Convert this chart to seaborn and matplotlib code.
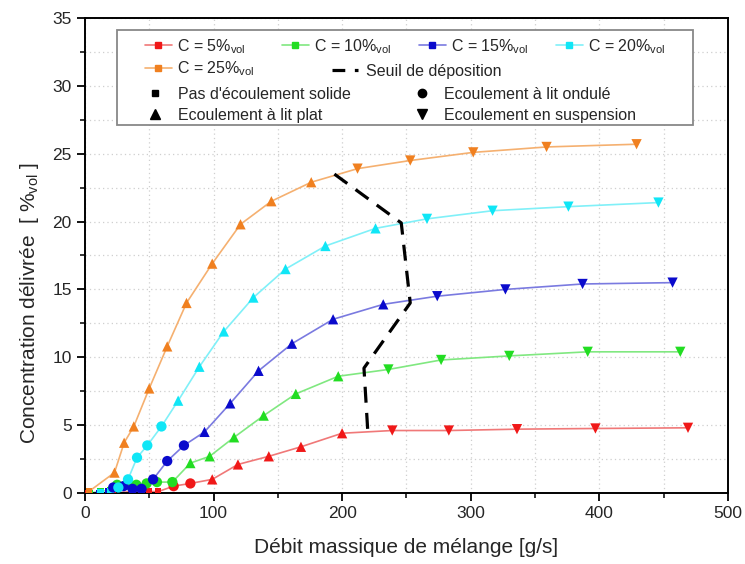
import matplotlib
matplotlib.use("Agg")
import matplotlib.pyplot as plt
from matplotlib.lines import Line2D
from matplotlib.patches import Rectangle
from matplotlib.ticker import MultipleLocator
import seaborn as sns
import pandas as pd

sns.set_style("white")
plt.rcParams['font.family'] = ['Liberation Sans', 'DejaVu Sans']

# ---------------- data ----------------
series = ["C5", "C10", "C15", "C20", "C25"]
series_labels = ["C = 5%$_{\\mathregular{vol}}$", "C = 10%$_{\\mathregular{vol}}$",
                 "C = 15%$_{\\mathregular{vol}}$", "C = 20%$_{\\mathregular{vol}}$",
                 "C = 25%$_{\\mathregular{vol}}$"]

# regimes: N = pas d'écoulement solide, O = lit ondulé, P = lit plat, S = suspension
x_c5 = [2, 12, 22, 37, 44, 50, 57, 69, 82, 99, 119, 143, 168, 200, 239, 283, 336, 397, 469]
y_c5 = [0, 0, 0, 0.1, 0.1, 0.1, 0.1, 0.5, 0.7, 1.0, 2.1, 2.7, 3.4, 4.4, 4.6, 4.6, 4.7, 4.75, 4.8]
r_c5 = ["N"] * 7 + ["O"] * 2 + ["P"] * 5 + ["S"] * 5

x_c10 = [4, 12, 20, 25, 34, 40, 48, 56, 68, 82, 97, 116, 139, 164, 197, 236, 277, 330, 391, 463]
y_c10 = [0, 0.1, 0.2, 0.6, 0.6, 0.6, 0.7, 0.8, 0.8, 2.2, 2.7, 4.1, 5.7, 7.3, 8.6, 9.1, 9.8, 10.1, 10.4, 10.4]
r_c10 = ["N"] * 3 + ["O"] * 6 + ["P"] * 6 + ["S"] * 5

x_c15 = [3, 11, 18, 22, 30, 37, 44, 53, 64, 77, 93, 113, 135, 161, 193, 232, 274, 327, 387, 457]
y_c15 = [0, 0, 0.1, 0.4, 0.5, 0.3, 0.3, 1.0, 2.35, 3.5, 4.5, 6.6, 9.0, 11.0, 12.8, 13.9, 14.5, 15.0, 15.4, 15.5]
r_c15 = ["N"] * 3 + ["O"] * 7 + ["P"] * 6 + ["S"] * 4

x_c20 = [3, 12, 20, 26, 33.5, 40.5, 48.5, 59.5, 72.5, 89, 108, 131, 156, 187, 226, 266, 317, 376, 446]
y_c20 = [0, 0.05, 0.1, 0.4, 1.0, 2.6, 3.5, 4.9, 6.8, 9.3, 11.9, 14.4, 16.5, 18.2, 19.5, 20.2, 20.8, 21.1, 21.4]
r_c20 = ["N"] * 3 + ["O"] * 5 + ["P"] * 7 + ["S"] * 4

x_c25 = [3, 23, 30.5, 38, 50, 64, 79, 99, 121, 145, 176, 212, 253, 302, 359, 429]
y_c25 = [0.1, 1.5, 3.7, 4.9, 7.7, 10.8, 14.0, 16.9, 19.8, 21.5, 22.9, 23.9, 24.5, 25.1, 25.5, 25.7]
r_c25 = ["N"] + ["P"] * 10 + ["S"] * 5

x_seuil = [194, 246, 253, 217, 220]
y_seuil = [23.5, 19.9, 14.0, 9.2, 4.5]

regimes = ["N", "O", "P", "S"]
regime_labels = ["Pas d'écoulement solide", "Ecoulement à lit ondulé",
                 "Ecoulement à lit plat", "Ecoulement en suspension"]

# ---------------- styles ----------------
marker_colors = {"C5": "#f01818", "C10": "#22dd22", "C15": "#0a0acc", "C20": "#10e6f6", "C25": "#f08020"}
line_colors = {"C5": "#f07878", "C10": "#80e880", "C15": "#7a7ae0", "C20": "#80f0f8", "C25": "#f5b070"}
regime_markers = {"N": "s", "O": "o", "P": "^", "S": "v"}
regime_sizes = {"N": 22, "O": 55, "P": 55, "S": 55}

frames = []
for s, xs, ys, rs in zip(series, [x_c5, x_c10, x_c15, x_c20, x_c25],
                         [y_c5, y_c10, y_c15, y_c20, y_c25],
                         [r_c5, r_c10, r_c15, r_c20, r_c25]):
    frames.append(pd.DataFrame({"x": xs, "y": ys, "regime": rs, "serie": s}))
df = pd.concat(frames, ignore_index=True)

fig, ax = plt.subplots(figsize=(7.45, 5.64), dpi=100)
fig.subplots_adjust(left=0.114, right=0.977, top=0.968, bottom=0.126)

sns.lineplot(data=df, x="x", y="y", hue="serie", palette=line_colors, sort=False,
             estimator=None, units="serie", legend=False, linewidth=1.2, ax=ax, zorder=2)
for reg in regimes:
    sub = df[df["regime"] == reg]
    sns.scatterplot(data=sub, x="x", y="y", hue="serie", palette=marker_colors,
                    marker=regime_markers[reg], s=regime_sizes[reg], linewidth=0,
                    legend=False, ax=ax, zorder=3)

sns.lineplot(x=x_seuil, y=y_seuil, sort=False, estimator=None, color="black",
             linewidth=2.3, linestyle=(0, (5, 3.2)), ax=ax, zorder=4)

# ---------------- axes ----------------
ax.set_xlim(0, 500)
ax.set_ylim(0, 35)
ax.xaxis.set_major_locator(MultipleLocator(100))
ax.xaxis.set_minor_locator(MultipleLocator(50))
ax.yaxis.set_major_locator(MultipleLocator(5))
ax.yaxis.set_minor_locator(MultipleLocator(2.5))
ax.tick_params(which="major", direction="out", length=6, width=1.3, labelsize=12.5,
               bottom=True, left=True, color="black")
ax.tick_params(which="minor", direction="out", length=3.5, width=1.1,
               bottom=True, left=True, color="black")
ax.grid(which="both", color="#cfcfcf", linestyle=(0, (1, 2.5)), linewidth=0.9)
ax.set_axisbelow(True)
for sp in ax.spines.values():
    sp.set_visible(True)
    sp.set_color("black")
    sp.set_linewidth(1.4)

ax.set_xlabel("Débit massique de mélange [g/s]", fontsize=15, labelpad=12)
ax.set_ylabel("Concentration délivrée  [ %$_{\\mathregular{vol}}$ ]", fontsize=15)
ax.yaxis.set_label_coords(-0.068, 0.40)

# ---------------- legend ----------------
rect = Rectangle((0.0498, 0.775), 0.896, 0.2, transform=ax.transAxes, facecolor="white",
                 edgecolor="#888888", linewidth=1.3, zorder=5)
ax.add_patch(rect)

def series_handle(s):
    return Line2D([0], [0], color=line_colors[s], lw=1.2, marker="s", markersize=4.5,
                  markerfacecolor=marker_colors[s], markeredgecolor=marker_colors[s])

order = [0, 4, 1, 2, 3]
legA = ax.legend([series_handle(series[i]) for i in order], [series_labels[i] for i in order],
                 ncol=4, loc="upper left", bbox_to_anchor=(0.093, 0.960), frameon=False,
                 fontsize=11.5, handlelength=1.7, handletextpad=0.3, columnspacing=1.72,
                 labelspacing=0.25, borderpad=0, borderaxespad=0)
legA.set_zorder(6)
ax.add_artist(legA)

legB = ax.legend([Line2D([0], [0], color="black", lw=2.3, linestyle=(0, (4, 3)))],
                 ["Seuil de déposition"], loc="center left", bbox_to_anchor=(0.385, 0.888),
                 frameon=False, fontsize=11.5, handlelength=1.6, handletextpad=0.5,
                 borderpad=0, borderaxespad=0)
legB.set_zorder(6)
ax.add_artist(legB)

reg_order = [0, 2, 1, 3]
reg_hsize = {"N": 4.5, "O": 6, "P": 6.5, "S": 6.5}
legC = ax.legend([Line2D([0], [0], color="black", ls="none", marker=regime_markers[regimes[i]],
                         markersize=reg_hsize[regimes[i]]) for i in reg_order],
                 [regime_labels[i] for i in reg_order], ncol=2, loc="upper left",
                 bbox_to_anchor=(0.097, 0.855), frameon=False, fontsize=11.5,
                 handlelength=1.0, handletextpad=0.9, columnspacing=3.95,
                 labelspacing=0.38, borderpad=0, borderaxespad=0)
legC.set_zorder(6)

fig.savefig("out.png", dpi=100)
